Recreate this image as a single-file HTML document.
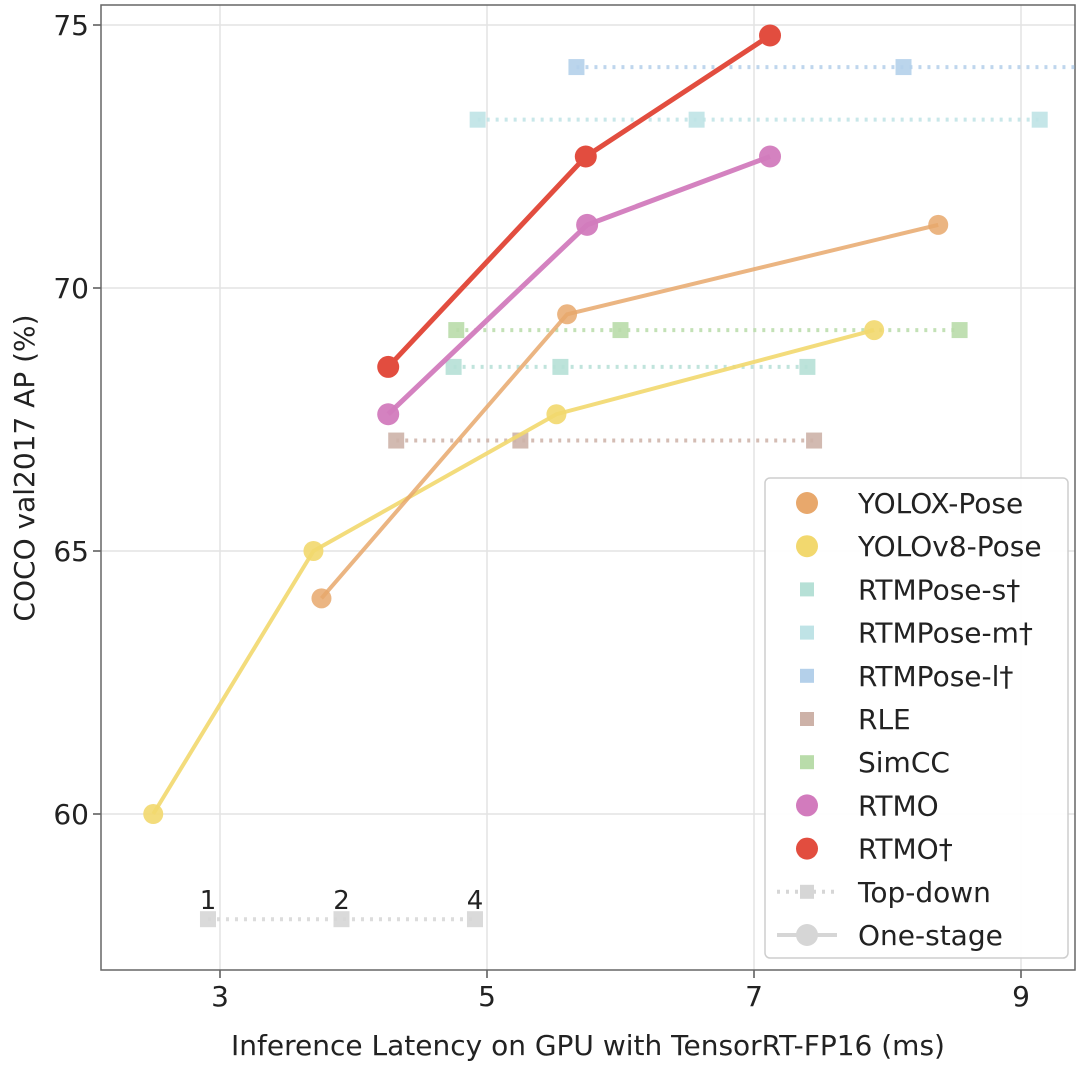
<!DOCTYPE html>
<html><head><meta charset="utf-8"><style>
html,body{margin:0;padding:0;background:#fff;}
svg text{font-family:"DejaVu Sans","Liberation Sans",sans-serif;fill:#222;}
</style></head><body>
<svg id="chart" width="1080" height="1065" xmlns="http://www.w3.org/2000/svg"></svg>
<script>
const xTicks=[3,5,7,9];
const yTicks=[60,65,70,75];
const seriesNames=["YOLOX-Pose","YOLOv8-Pose","RTMO","RTMO†"];
const yoloxX=[3.76,5.6,8.38], yoloxY=[64.1,69.5,71.2];
const yolov8X=[2.5,3.7,5.52,7.9], yolov8Y=[60,65,67.6,69.2];
const rtmoX=[4.26,5.75,7.12], rtmoY=[67.6,71.2,72.5];
const rtmoDX=[4.26,5.74,7.12], rtmoDY=[68.5,72.5,74.8];
const rtmpLX=[5.67,8.12], rtmpLY=74.2;
const rtmpMX=[4.93,6.57,9.14], rtmpMY=73.2;
const simccX=[4.77,6.0,8.54], simccY=69.2;
const rtmpSX=[4.75,5.55,7.4], rtmpSY=68.5;
const rleX=[4.32,5.25,7.45], rleY=67.1;
const scaleX=[2.91,3.91,4.91], scaleY=58.0, scaleLabels=["1","2","4"];

const L=101,R=1075,T=5,B=970;
const x=v=>220+(v-3)*133.5;
const y=v=>814-(v-60)*52.6;
const svg=document.getElementById('chart');
const NS="http://www.w3.org/2000/svg";
function mk(tag,attrs,parent,name,inter){const e=document.createElementNS(NS,tag);for(const k in attrs)e.setAttribute(k,attrs[k]);


(parent||svg).appendChild(e);return e;}
xTicks.forEach(t=>{mk('line',{x1:x(t),x2:x(t),y1:T,y2:B,stroke:'#e3e3e3','stroke-width':1.5},svg,'x-grid-line');
mk('line',{x1:x(t),x2:x(t),y1:B,y2:B+8,stroke:'#555','stroke-width':1.5},svg,'x-tick');
const tx=mk('text',{x:x(t),y:B+36,'text-anchor':'middle','font-size':28},svg,'x-tick-label');tx.textContent=t;});
yTicks.forEach(t=>{mk('line',{x1:L,x2:R,y1:y(t),y2:y(t),stroke:'#e3e3e3','stroke-width':1.5},svg,'y-grid-line');
mk('line',{x1:L-8,x2:L,y1:y(t),y2:y(t),stroke:'#555','stroke-width':1.5},svg,'y-tick');
const tx=mk('text',{x:L-12,y:y(t)+10,'text-anchor':'end','font-size':28},svg,'y-tick-label');tx.textContent=t;});
mk('rect',{x:L,y:T,width:R-L,height:B-T,fill:'none',stroke:'#666','stroke-width':1.5},svg,'plot-frame');
let t=mk('text',{x:588,y:1055,'text-anchor':'middle','font-size':28},svg,'x-axis-title');t.textContent="Inference Latency on GPU with TensorRT-FP16 (ms)";
t=mk('text',{x:0,y:0,'text-anchor':'middle','font-size':28,transform:'translate(34,468) rotate(-90)'},svg,'y-axis-title');t.textContent="COCO val2017 AP (%)";
function td(xs,yv,col,name,extend){
 const x2=extend?R:x(xs[xs.length-1]);
 mk('line',{x1:x(xs[0]),x2:x2,y1:y(yv),y2:y(yv),stroke:col,'stroke-width':4,'stroke-dasharray':'3 6',opacity:0.85},svg,name+'-line');
 xs.forEach(v=>mk('rect',{x:x(v)-8,y:y(yv)-8,width:16,height:16,fill:col,opacity:0.9},svg,name+'-point'));
}
td(rtmpLX,rtmpLY,'#b4d0ea','rtmpose-l',true);
td(rtmpMX,rtmpMY,'#bfe3e6','rtmpose-m');
td(simccX,simccY,'#b9dcaa','simcc');
td(rtmpSX,rtmpSY,'#b6e0d6','rtmpose-s');
td(rleX,rleY,'#cdb2a8','rle');
td(scaleX,scaleY,'#d6d6d6','scale-ref');
scaleX.forEach((v,i)=>{const e=mk('text',{x:x(v),y:y(scaleY)-10,'text-anchor':'middle','font-size':26},svg,'scale-label');e.textContent=scaleLabels[i];});
function os(xs,ys,col,name,w,r,op){
 mk('polyline',{points:xs.map((v,i)=>x(v)+','+y(ys[i])).join(' '),fill:'none',stroke:col,'stroke-width':w,opacity:op},svg,name+'-line');
 xs.forEach((v,i)=>mk('circle',{cx:x(v),cy:y(ys[i]),r:r,fill:col,opacity:op},svg,name+'-point'));
}
os(yolov8X,yolov8Y,'#f2d86e','yolov8-pose',4,10,0.9);
os(yoloxX,yoloxY,'#e8a86c','yolox-pose',4,10,0.85);
os(rtmoX,rtmoY,'#d27bbd','rtmo',5,11,0.95);
os(rtmoDX,rtmoDY,'#e24d3f','rtmo-dagger',5,11,1);
const lg=mk('g',{},svg,'legend');
mk('rect',{x:765,y:478,width:303,height:480,rx:5,fill:'#fff',stroke:'#ccc','stroke-width':1.5,opacity:0.95},lg,'legend-box');
const items=[['YOLOX-Pose','c','#e8a86c'],['YOLOv8-Pose','c','#f2d86e'],['RTMPose-s†','s','#b6e0d6'],['RTMPose-m†','s','#bfe3e6'],['RTMPose-l†','s','#b4d0ea'],['RLE','s','#cdb2a8'],['SimCC','s','#b9dcaa'],['RTMO','c','#d27bbd'],['RTMO†','c','#e24d3f'],['Top-down','td','#d6d6d6'],['One-stage','os','#d6d6d6']];
items.forEach((it,i)=>{const cy=503+i*43.2;const g=mk('g',{},lg,'legend-entry');
 if(it[1]=='c')mk('circle',{cx:807,cy:cy,r:11,fill:it[2]},g,'legend-marker');
 else if(it[1]=='s')mk('rect',{x:800,y:cy-7,width:14,height:14,fill:it[2]},g,'legend-marker');
 else if(it[1]=='td'){mk('line',{x1:777,x2:837,y1:cy,y2:cy,stroke:it[2],'stroke-width':4,'stroke-dasharray':'3 6'},g,'legend-line');mk('rect',{x:800,y:cy-7,width:14,height:14,fill:it[2]},g,'legend-marker');}
 else {mk('line',{x1:777,x2:837,y1:cy,y2:cy,stroke:it[2],'stroke-width':4},g,'legend-line');mk('circle',{cx:807,cy:cy,r:11,fill:it[2]},g,'legend-marker');}
 const e=mk('text',{x:858,y:cy+10,'font-size':28},g,'legend-label');e.textContent=it[0];});
</script>
</body></html>
